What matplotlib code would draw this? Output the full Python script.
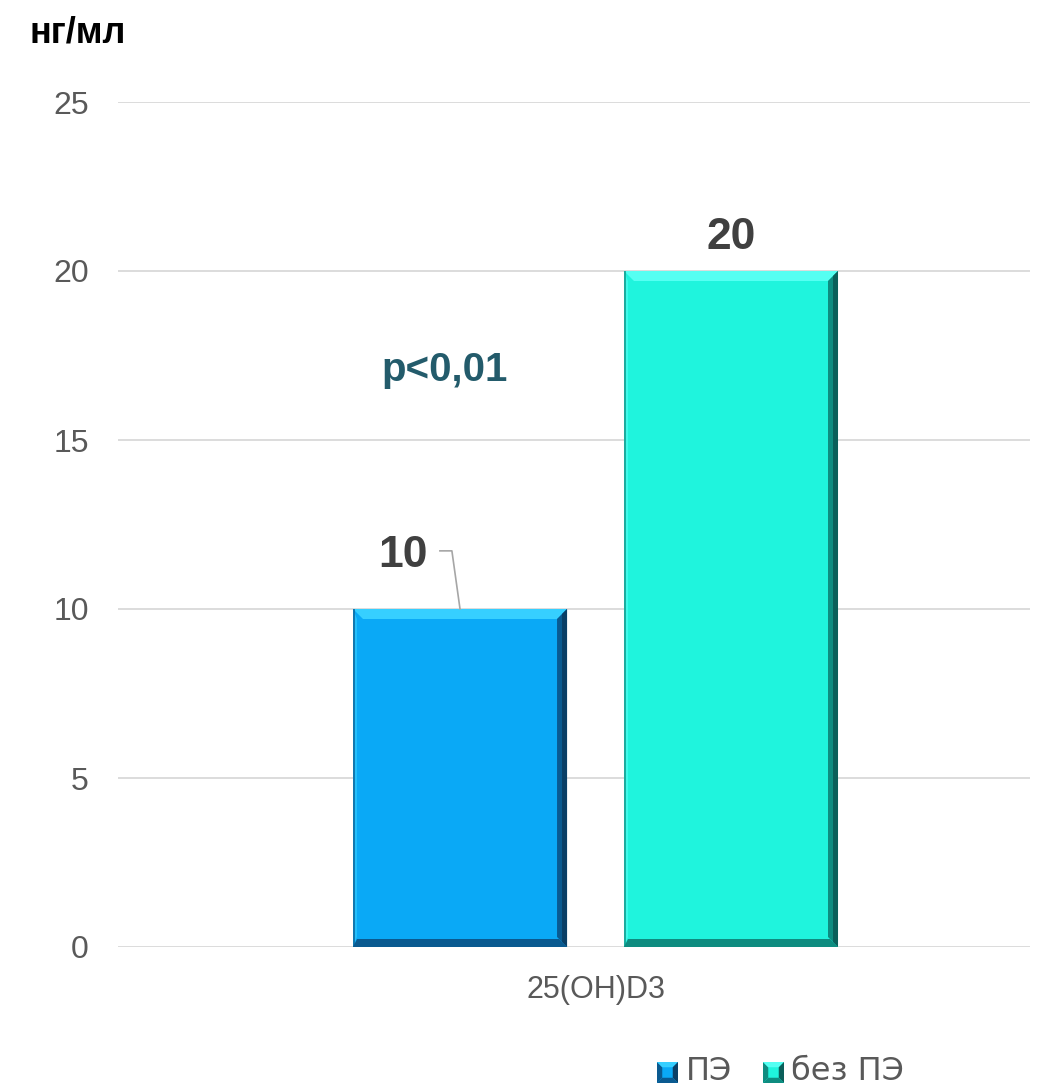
import matplotlib
matplotlib.use("Agg")
import matplotlib.pyplot as plt
from matplotlib.patches import Polygon, Rectangle

# Data
category = "25(OH)D3"
series = ["ПЭ", "без ПЭ"]
values = [10, 20]
yticks = [0, 5, 10, 15, 20, 25]
unit_label = "нг/мл"
p_text = "p<0,01"

face = ["#0AA9F6", "#1FF4DD"]
light = ["#36CFFF", "#55FFF2"]
dark_r = ["#0A3F66", "#0B5F5A"]
dark_b = ["#0A5A90", "#0E8C80"]

FONT = "Liberation Sans"
W, H = 1043, 1087
fig = plt.figure(figsize=(W / 100, H / 100), dpi=100)
ax = fig.add_axes([118 / W, 140 / H, 912 / W, 845 / H])

bar_w = 1.0
offsets = [-0.633, 0.633]
ax.set_xlim(-2.231, 2.030)
ax.set_ylim(0, 25)

# unit conversions (pixels -> data)
px_x = bar_w / 214.0
px_y = 25 / 845.0


def bevel_bar(ax, xc, h, i):
    x0, x1 = xc - bar_w / 2, xc + bar_w / 2
    bx, by = 10 * px_x, 10 * px_y
    ax.add_patch(Rectangle((x0, 0), bar_w, h, facecolor=face[i], edgecolor="none", zorder=3))
    # top bevel
    ax.add_patch(Polygon([(x0, h), (x1, h), (x1 - bx, h - by), (x0 + bx, h - by)],
                         closed=True, facecolor=light[i], edgecolor="none", zorder=4))
    # left bevel
    ax.add_patch(Polygon([(x0, 0), (x0, h), (x0 + bx * 0.4, h - by), (x0 + bx * 0.4, by)],
                         closed=True, facecolor=light[i], edgecolor="none", zorder=4, alpha=0.6))
    # right bevel (dark, two tones)
    ax.add_patch(Polygon([(x1, 0), (x1, h), (x1 - bx, h - by), (x1 - bx, by)],
                         closed=True, facecolor=dark_b[i], edgecolor="none", zorder=4))
    ax.add_patch(Polygon([(x1, 0), (x1, h), (x1 - bx * 0.5, h - by * 0.5), (x1 - bx * 0.5, by * 0.5)],
                         closed=True, facecolor=dark_r[i], edgecolor="none", zorder=4))
    # bottom bevel
    ax.add_patch(Polygon([(x0, 0), (x1, 0), (x1 - bx * 0.8, by * 0.8), (x0 + bx * 0.4, by * 0.8)],
                         closed=True, facecolor=dark_b[i], edgecolor="none", zorder=4))
    # thin left dark edge
    ax.add_patch(Rectangle((x0, 0), 2 * px_x, h, facecolor=dark_b[i], edgecolor="none", zorder=5, alpha=0.7))


for i, (off, v) in enumerate(zip(offsets, values)):
    bevel_bar(ax, off, v, i)

# gridlines
ax.set_yticks(yticks)
ax.yaxis.grid(True, color="#D9D9D9", linewidth=1.3, zorder=0)
ax.set_axisbelow(True)
for s in ax.spines.values():
    s.set_visible(False)
ax.tick_params(axis="y", length=0, pad=21, labelsize=23, labelcolor="#595959")
ax.set_yticklabels([str(t) for t in yticks], family=FONT)
ax.set_xticks([0])
ax.set_xticklabels([category], fontsize=22, color="#595959", family=FONT)
ax.tick_params(axis="x", length=0, pad=20)

# value labels
ax.text(offsets[1], 20.98, str(values[1]), ha="center", va="center",
        fontsize=32, fontweight="bold", color="#404040", family=FONT, zorder=6)
ax.text(-0.900, 11.57, str(values[0]), ha="center", va="center",
        fontsize=32, fontweight="bold", color="#404040", family=FONT, zorder=6)
ax.plot([-0.727, -0.671, offsets[0]], [11.72, 11.72, values[0]],
        color="#A6A6A6", linewidth=1.2, zorder=6, clip_on=False)

ax.text(-0.703, 17.07, p_text, ha="center", va="center", fontsize=29, fontweight="bold",
        color="#235B6B", family=FONT)

fig.text(30 / W, 1 - 33 / H, unit_label, ha="left", va="center", fontsize=26,
         fontweight="bold", color="#000000", family=FONT)


def bevel_square(fig, x, y, s, i):
    # x, y: pixel position of lower-left corner (from bottom)
    def p(px, py):
        return (px / W, py / H)
    b = s * 0.25
    kw = dict(closed=True, transform=fig.transFigure, edgecolor="none", figure=fig)
    fig.patches.append(Rectangle(p(x, y), s / W, s / H, transform=fig.transFigure,
                                 facecolor=face[i], edgecolor="none", figure=fig))
    fig.patches.append(Polygon([p(x, y), p(x, y + s), p(x + b, y + s - b), p(x + b, y + b)],
                               facecolor=dark_b[i], **kw))
    fig.patches.append(Polygon([p(x, y + s), p(x + s, y + s), p(x + s - b, y + s - b), p(x + b, y + s - b)],
                               facecolor=light[i], **kw))
    fig.patches.append(Polygon([p(x + s, y), p(x + s, y + s), p(x + s - b, y + s - b), p(x + s - b, y + b)],
                               facecolor=dark_r[i], **kw))
    fig.patches.append(Polygon([p(x, y), p(x + s, y), p(x + s - b, y + b), p(x + b, y + b)],
                               facecolor=dark_b[i], **kw))


# legend
leg_x = [657, 763]
txt_x = [686, 791]
for i, name in enumerate(series):
    bevel_square(fig, leg_x[i], H - 1083, 21, i)
    fig.text(txt_x[i] / W, (H - 1071) / H, name, ha="left", va="center", fontsize=23,
             color="#595959", family="DejaVu Sans")

fig.savefig("out.png", dpi=100, facecolor="white")
